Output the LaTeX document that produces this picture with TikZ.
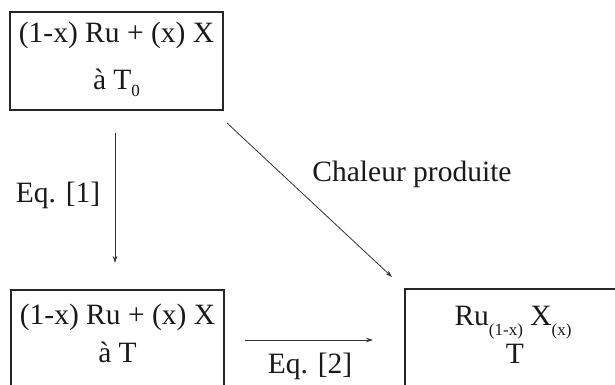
\documentclass[tikz,border=0pt]{standalone}
\usepackage{fontspec}
\setmainfont{Liberation Serif}
\usetikzlibrary{arrows.meta,calc}
\newcommand{\mysub}[2]{\raisebox{-#1pt}{\fontsize{17}{17}\selectfont #2}}
\begin{document}
\begin{tikzpicture}[x=1pt,y=-1pt,
  boxst/.style={draw=black!85,line width=1.3pt,inner sep=0pt},
  txt/.style={inner sep=0pt,anchor=base,font=\fontsize{29.5}{35}\selectfont,text=black!90},
  arr/.style={draw=black!80,line width=0.8pt,-{Stealth[length=7pt,width=4.5pt]}}]
\useasboundingbox (0,0) rectangle (615,385);
\clip (0,0) rectangle (615,385);
% boxes
\node[boxst,minimum width=213pt,minimum height=98pt] (top) at (116.5,61) {};
\node[boxst,minimum width=213pt,minimum height=110pt] (bl) at (117.5,345) {};
\node[boxst,minimum width=216pt,minimum height=110pt] (br) at (513,344) {};
% texts
\node[txt] (t1) at (116.5,43) {(1-x) Ru + (x) X};
\node[txt] (t2) at (116.5,90) {à T\mysub{6}{0}};
\node[txt] (b1) at (117.5,324) {(1-x) Ru + (x) X};
\node[txt] (b2) at (117.5,362) {à T};
\node[txt] (r1) at (513,325) {Ru\mysub{10}{(1-x)} X\mysub{10}{(x)}};
\node[txt] (r2) at (515,363) {T};
\node[txt,anchor=center] (eq1) at (58,195) {Eq. [1]};
\node[txt,anchor=center] (eq2) at (310,366) {Eq. [2]};
\node[txt,anchor=center] (chal) at (412,174) {Chaleur produite};
% connectors
\coordinate (v1) at (115,133);
\coordinate (v2) at (115,263);
\coordinate (d1) at (227,123);
\coordinate (d2) at (392,277);
\coordinate (h1) at (245,340);
\coordinate (h2) at (373,340);
\draw[arr] (v1) -- (v2);
\draw[arr] (d1) -- (d2);
\draw[arr] (h1) -- (h2);
\end{tikzpicture}
\end{document}
